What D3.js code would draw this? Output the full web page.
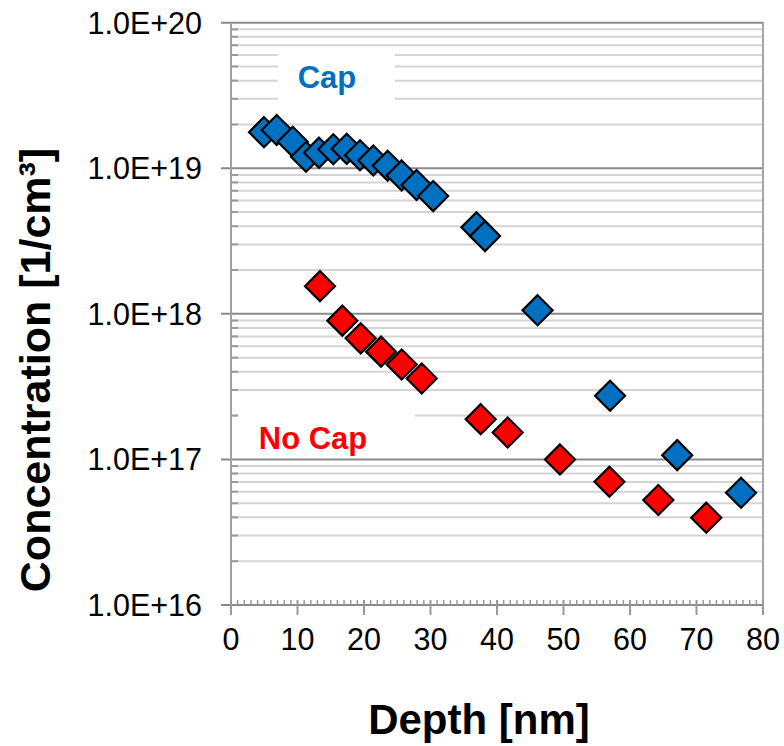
<!DOCTYPE html>
<html>
<head>
<meta charset="utf-8">
<script src="https://cdn.jsdelivr.net/npm/d3@7/dist/d3.min.js"></script>
<style>
  html, body { margin: 0; padding: 0; background: #fff; }
  svg { display: block; font-family: "Liberation Sans", Arial, sans-serif; }
</style>
</head>
<body>
<svg id="chart" width="784" height="746"></svg>
<script>
// ---- data ----
const capDepth = [4.96, 6.87, 9.28, 11.28, 13.23, 15.38, 17.4, 19.4, 21.4, 23.56, 25.66, 27.9, 30.4, 36.9, 38.2, 46.1, 57.0, 67.1, 76.7];
const capConc  = [1.77e19, 1.83e19, 1.52e19, 1.20e19, 1.28e19, 1.35e19, 1.36e19, 1.23e19, 1.13e19, 1.04e19, 8.93e18, 7.67e18, 6.44e18, 3.93e18, 3.42e18, 1.06e18, 2.74e17, 1.07e17, 5.9e16];
const noCapDepth = [13.38, 16.74, 19.5, 22.56, 25.67, 28.68, 37.55, 41.6, 49.47, 56.9, 64.26, 71.47];
const noCapConc  = [1.55e18, 8.98e17, 6.79e17, 5.5e17, 4.49e17, 3.6e17, 1.89e17, 1.53e17, 1.0e17, 7.03e16, 5.26e16, 3.98e16];
const xTicks = [0, 10, 20, 30, 40, 50, 60, 70, 80];
const yTicks = [1e16, 1e17, 1e18, 1e19, 1e20];
const yTickLabels = ["1.0E+16", "1.0E+17", "1.0E+18", "1.0E+19", "1.0E+20"];
const seriesNames = ["Cap", "No Cap"];
const seriesColors = ["#0070C0", "#FF0000"];

// ---- layout ----
const svg = d3.select("#chart");
const L = 231, R = 763, T = 22.7, B = 605;
const x = d3.scaleLinear().domain([0, 80]).range([L, R]);
const y = d3.scaleLog().domain([1e16, 1e20]).range([B, T]);

// minor gridlines
const minorVals = [];
for (let e = 16; e < 20; e++) for (let m = 2; m <= 9; m++) minorVals.push(m * Math.pow(10, e));

const g = svg.append("g");
g.selectAll("line.minor").data(minorVals).enter().append("line")
  .attr("x1", L).attr("x2", R).attr("y1", d => y(d)).attr("y2", d => y(d))
  .attr("stroke", "#d4d4d4").attr("stroke-width", 2);
// minor y ticks (inside)
g.selectAll("line.minort").data(minorVals).enter().append("line")
  .attr("x1", L).attr("x2", L + 7).attr("y1", d => y(d)).attr("y2", d => y(d))
  .attr("stroke", "#999").attr("stroke-width", 2);

// label boxes (white background covering gridlines)
g.append("rect").attr("x", 278).attr("y", 49).attr("width", 117).attr("height", 55).attr("fill", "#fff");
g.append("rect").attr("x", 238).attr("y", 398).attr("width", 177).attr("height", 57).attr("fill", "#fff");

// major gridlines
g.selectAll("line.major").data(yTicks).enter().append("line")
  .attr("x1", L - 10).attr("x2", R).attr("y1", d => y(d)).attr("y2", d => y(d))
  .attr("stroke", "#8a8a8a").attr("stroke-width", 2);

// axes lines
g.append("line").attr("x1", L).attr("x2", L).attr("y1", T).attr("y2", B)
  .attr("stroke", "#a0a0a0").attr("stroke-width", 2);
g.append("line").attr("x1", R).attr("x2", R).attr("y1", T - 1).attr("y2", B)
  .attr("stroke", "#a6a6a6").attr("stroke-width", 2);

// x minor ticks (every 1)
const xMinor = d3.range(1, 80).filter(v => v % 10 !== 0);
g.selectAll("line.xminor").data(xMinor).enter().append("line")
  .attr("x1", d => x(d)).attr("x2", d => x(d)).attr("y1", B).attr("y2", B - 5)
  .attr("stroke", "#999").attr("stroke-width", 1.5);
g.selectAll("line.xmajor").data(xTicks).enter().append("line")
  .attr("x1", d => x(d)).attr("x2", d => x(d)).attr("y1", B - 5).attr("y2", B + 10)
  .attr("stroke", "#999").attr("stroke-width", 2);

// tick labels
const tickFont = 30.5;
g.selectAll("text.ylab").data(yTicks).enter().append("text")
  .attr("x", 202).attr("y", d => y(d) + 11)
  .attr("text-anchor", "end").attr("font-size", tickFont).attr("fill", "#000")
  .text((d, i) => yTickLabels[i]);
g.selectAll("text.xlab").data(xTicks).enter().append("text")
  .attr("x", d => x(d)).attr("y", 650)
  .attr("text-anchor", "middle").attr("font-size", tickFont).attr("fill", "#000")
  .text(d => d);

// axis titles
svg.append("text")
  .attr("x", 479).attr("y", 734)
  .attr("text-anchor", "middle").attr("font-size", 42).attr("font-weight", "bold")
  .text("Depth [nm]");
svg.append("text")
  .attr("transform", "translate(50,370) rotate(-90)")
  .attr("text-anchor", "middle").attr("font-size", 43).attr("font-weight", "bold")
  .text("Concentration [1/cm³]");

// series labels
svg.append("text").attr("x", 327).attr("y", 88).attr("text-anchor", "middle")
  .attr("font-size", 31).attr("font-weight", "bold").attr("fill", seriesColors[0]).text(seriesNames[0]);
svg.append("text").attr("x", 313).attr("y", 449).attr("text-anchor", "middle")
  .attr("font-size", 31).attr("font-weight", "bold").attr("fill", seriesColors[1]).text(seriesNames[1]);

// markers
const diamond = "M0,-15L15,0L0,15L-15,0Z";
const capData = capDepth.map((d, i) => ({ x: d, y: capConc[i] }));
const noCapData = noCapDepth.map((d, i) => ({ x: d, y: noCapConc[i] }));
[capData, noCapData].forEach((data, si) => {
  svg.append("g").selectAll("path").data(data).enter().append("path")
    .attr("d", diamond)
    .attr("transform", d => `translate(${x(d.x)},${y(d.y)})`)
    .attr("fill", seriesColors[si]).attr("stroke", "#000").attr("stroke-width", 2.2)
    .attr("stroke-linejoin", "miter");
});
</script>
</body>
</html>
